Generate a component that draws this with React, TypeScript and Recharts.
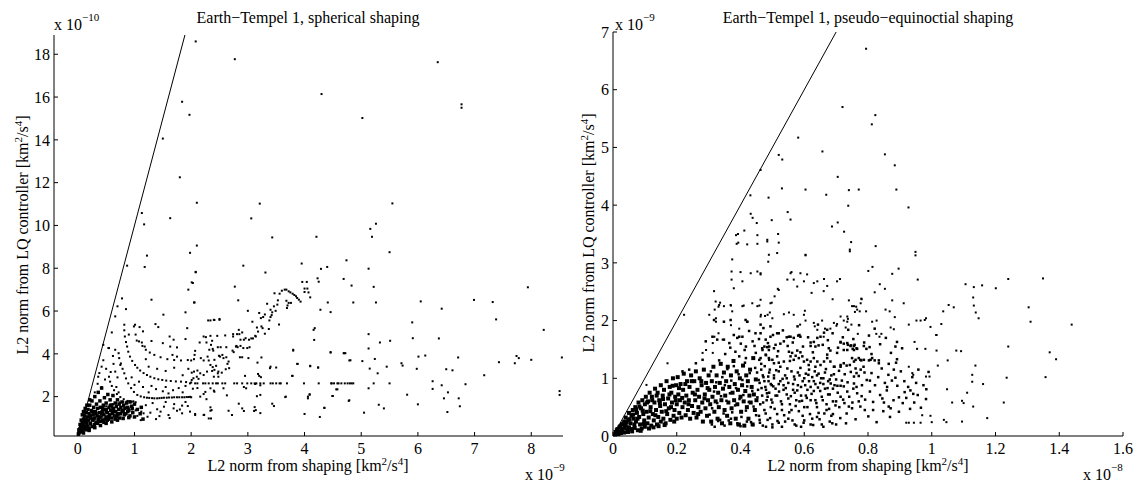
import React from "react";
import { ScatterChart, Scatter, XAxis, YAxis } from "recharts";

type Pt = [number, number];

// axis ticks (x in 1e-9 / y in 1e-10 on the left, x in 1e-8 / y in 1e-9 on the right)
const sphericalXTicks = [0, 1, 2, 3, 4, 5, 6, 7, 8];
const sphericalYTicks = [2, 4, 6, 8, 10, 12, 14, 16, 18];
const equinoctialXTicks = [0, 0.2, 0.4, 0.6, 0.8, 1, 1.2, 1.4, 1.6];
const equinoctialYTicks = [0, 1, 2, 3, 4, 5, 6, 7];

// y = x reference lines
const sphericalUnity: Pt[] = [[0.016, 0.16], [1.89, 18.9]];
const equinoctialUnity: Pt[] = [[0, 0], [0.7, 7]];

// spherical shaping: dense wedge near the origin
const sphericalCore: Pt[] = [
  [0.01,0.25],[0.02,0.3],[0.02,0.45],[0.03,0.4],[0.04,0.5],[0.04,0.7],[0.05,0.35],[0.05,0.6],[0.06,0.45],[0.06,0.9],
  [0.07,0.7],[0.08,0.55],[0.08,0.85],[0.08,1.15],[0.09,0.4],[0.1,0.65],[0.1,0.95],[0.1,1.3],[0.11,0.5],[0.12,0.8],
  [0.12,1.1],[0.13,0.6],[0.13,1.45],[0.14,0.95],[0.15,0.45],[0.15,1.25],[0.16,0.75],[0.16,1.6],[0.17,1.05],[0.18,0.6],
  [0.18,1.4],[0.19,0.9],[0.2,1.2],[0.2,0.5],[0.21,1.6],[0.21,1.85],[0.22,0.75],[0.23,1.0],[0.24,1.35],[0.25,0.6],
  [0.25,1.8],[0.26,0.9],[0.27,1.15],[0.28,1.5],[0.29,0.7],[0.3,1.0],[0.3,2.0],[0.31,1.3],[0.32,0.8],[0.33,1.65],
  [0.34,1.1],[0.35,0.75],[0.35,1.45],[0.36,2.2],[0.37,0.95],[0.38,1.25],[0.39,1.8],[0.4,0.85],[0.4,1.5],[0.41,1.05],
  [0.42,2.4],[0.43,1.3],[0.44,0.9],[0.45,1.6],[0.46,1.15],[0.47,1.95],[0.48,0.95],[0.49,1.4],[0.5,1.7],[0.5,1.05],
  [0.52,1.25],[0.53,2.1],[0.54,0.95],[0.55,1.5],[0.56,1.15],[0.57,1.85],[0.58,1.35],[0.6,1.0],[0.6,1.6],[0.61,1.2],
  [0.62,2.05],[0.63,1.45],[0.65,1.1],[0.66,1.7],[0.67,1.3],[0.68,1.55],[0.7,1.15],[0.7,1.85],[0.72,1.4],[0.73,1.65],
  [0.75,1.2],[0.76,1.5],[0.78,1.75],[0.8,1.3],[0.81,1.6],[0.83,1.45],[0.85,1.2],[0.86,1.7],[0.88,1.5],[0.9,1.35],
  [0.92,1.75],[0.95,1.55],[0.97,1.25],[1.0,1.65],[1.0,1.05],[1.05,1.4],[1.1,1.2],[1.12,1.5],[1.15,0.95],
  [0.1,0.3],[0.2,0.42],[0.3,0.55],[0.4,0.65],[0.5,0.75],[0.6,0.82],[0.7,0.9],[0.8,0.98],[0.9,1.02],
  [0.15,0.9],[0.22,1.1],[0.26,1.3],[0.32,1.2],[0.36,0.9],[0.42,1.2],[0.44,1.45],[0.5,1.3],[0.55,1.05],[0.58,1.6],
  [0.64,1.3],[0.66,0.95],[0.72,1.2],[0.74,1.0],[0.78,1.35],[0.82,1.15],[0.88,1.3],[0.92,1.1],[0.96,1.45],[0.28,0.95],
  [0.38,1.05],[0.46,0.8],[0.52,0.9],[0.62,1.35],[0.68,1.05],
];

// spherical shaping: the curved families of solutions
const sphericalArcs: Pt[] = [
  [0.82,5.36],[0.82,5.1],[0.83,4.81],[0.85,4.55],[0.87,4.34],[0.89,4.1],[0.92,3.87],[0.96,3.67],[1.01,3.48],[1.05,3.35],
  [1.1,3.22],[1.16,3.1],[1.22,3.01],[1.28,2.93],[1.35,2.86],[1.42,2.81],[1.49,2.78],[1.56,2.75],[1.64,2.73],[1.73,2.71],
  [1.82,2.7],[1.91,2.68],[2.0,2.66],
  [0.99,5.28],[1.02,4.9],[1.08,4.58],[1.14,4.37],[1.2,4.19],[1.27,4.06],[1.35,3.95],[1.46,3.84],[1.58,3.75],[1.7,3.71],
  [1.82,3.69],[1.94,3.71],[2.05,3.75],[2.17,3.8],[2.29,3.87],
  [0.72,4.03],[0.73,3.8],[0.76,3.55],[0.79,3.3],[0.82,3.09],[0.85,2.85],[0.89,2.62],[0.94,2.4],[0.99,2.22],[1.05,2.08],
  [1.11,2.01],[1.17,1.97],[1.26,1.94],[1.35,1.92],[1.44,1.93],[1.52,1.95],[1.61,1.96],[1.7,1.97],[1.79,1.97],[1.88,1.97],
  [1.95,1.98],[2.0,1.97],[1.22,1.95],[1.31,1.93],[1.4,1.92],[1.48,1.94],[1.57,1.95],[1.66,1.96],[1.75,1.97],[1.84,1.97],
  [1.92,1.98],[1.98,1.99],
  [0.55,2.93],[0.57,2.7],[0.6,2.5],[0.64,2.3],[0.69,2.12],[0.75,1.98],[0.81,1.88],[0.88,1.8],[0.95,1.76],[1.02,1.74],
  [0.5,1.55],[0.56,1.6],[0.62,1.65],[0.68,1.7],[0.74,1.73],[0.8,1.76],[0.86,1.77],[0.92,1.78],[0.98,1.78],
  [0.45,1.35],[0.52,1.42],[0.6,1.48],[0.68,1.5],[0.76,1.5],[0.84,1.48],[0.9,1.45],[0.96,1.4],[1.02,1.36],
];

// spherical shaping: rising band between 2 and 4
const sphericalBand: Pt[] = [
  [1.98,8.72],[2.08,7.81],[2.03,7.31],[2.92,8.12],[3.31,7.8],[2.05,6.4],[2.77,7.14],[2.83,6.5],[3.65,7.0],[3.68,7.0],
  [3.72,6.92],[3.75,6.87],[3.6,6.95],[3.56,6.81],[3.79,6.81],[3.82,6.75],[3.85,6.69],[3.87,6.61],[3.9,6.53],[3.93,6.44],
  [4.0,7.05],[4.05,7.05],[4.0,6.89],[4.07,6.87],[4.1,6.64],[3.47,6.83],[3.68,6.48],[3.72,6.38],[3.7,6.26],[3.76,6.38],
  [3.69,6.14],[3.53,6.5],[3.52,6.3],[3.34,6.34],[3.46,6.22],[3.4,6.06],[3.49,6.01],[3.43,5.94],[3.42,5.81],[3.4,5.72],
  [3.38,5.56],[3.2,5.91],[3.3,5.84],[3.27,5.72],[3.23,5.67],[3.0,6.01],[3.08,5.5],[3.24,5.28],[3.26,5.2],[3.16,5.23],
  [3.18,5.04],[3.14,4.81],[3.06,4.72],[3.02,4.66],[2.96,4.73],[2.93,4.66],[2.87,4.66],[3.3,4.94],[3.37,5.16],[3.55,5.37],
  [2.84,5.12],[2.9,5.0],[2.85,4.92],[2.81,4.92],[2.74,4.92],[2.74,4.81],[2.99,4.27],[3.03,4.31],[3.09,4.72],[3.13,4.84],
  [2.34,5.56],[2.41,5.58],[2.5,5.63],[2.22,4.81],[2.26,4.78],[2.34,4.84],[2.46,4.84],[2.6,4.86],[2.15,4.53],[2.37,4.61],
  [2.35,4.42],[2.47,4.31],[2.52,4.31],[2.62,4.31],[2.38,4.23],[2.39,4.15],[2.73,4.15],[2.75,4.08],[2.79,4.34],[2.8,4.37],
  [2.82,4.31],[2.87,4.37],[2.92,4.27],[2.07,4.14],[2.06,3.95],[2.0,3.69],[2.22,3.69],[2.31,3.69],[2.41,3.72],[2.49,3.91],
  [2.51,3.87],[2.55,3.95],[2.57,3.8],[2.62,3.84],[2.66,3.64],[2.86,3.84],[2.9,3.84],[3.01,3.8],[3.24,3.83],[3.17,3.59],
  [2.34,3.48],[2.38,3.38],[2.44,3.44],[2.41,3.25],[2.37,3.2],[2.48,3.17],[2.54,3.12],[2.61,3.28],[2.67,3.33],[2.64,3.53],
  [3.39,3.33],[3.4,3.4],[3.5,3.36],[2.16,3.09],[2.22,3.01],[2.28,3.17],[2.11,3.22],[2.05,3.17],[2.01,3.12],[2.1,2.93],
  [2.04,2.86],[2.01,2.78],[2.13,2.83],[2.4,2.93],[2.47,3.09],[2.48,2.93],[2.95,2.97],[3.18,3.06],[3.23,2.91],[3.2,2.97],
  [3.78,2.97],[3.88,3.53],[3.8,4.15],[4.1,3.42],[4.24,3.36],[4.46,4.06],[4.72,4.03],
  [1.98,2.62],[2.07,2.62],[2.11,2.62],[2.21,2.62],[2.25,2.62],[2.31,2.62],[2.38,2.62],[2.44,2.62],[2.47,2.62],[2.55,2.62],
  [2.6,2.62],[2.76,2.62],[2.81,2.62],[2.9,2.62],[2.99,2.62],[3.06,2.62],[3.12,2.62],[3.15,2.62],[3.22,2.62],[3.28,2.62],
  [3.4,2.62],[3.44,2.62],[3.5,2.62],[3.56,2.62],[4.48,2.62],[4.52,2.62],[4.6,2.62],
  [2.03,2.37],[2.11,2.4],[2.34,2.39],[2.4,2.28],[2.57,2.39],[2.93,2.45],[2.97,2.39],[3.13,2.59],[3.22,2.53],[2.16,2.0],
  [2.22,2.12],[2.25,2.22],[2.41,2.23],[2.27,1.88],[2.63,2.06],[3.16,2.02],[3.22,2.08],[3.67,2.0],[4.06,2.0],[4.09,2.11],
  [3.43,1.67],[3.46,1.56],[2.84,1.67],[2.9,1.45],[2.93,1.33],[3.12,1.51],[3.14,1.37],[3.11,1.33],[3.22,1.23],[2.66,1.34],
  [2.72,1.14],[2.34,1.5],[2.36,1.37],[2.23,1.15],[2.31,0.98],[2.07,1.19],[4.35,1.48],[4.78,1.8],[4.5,2.03],[4.58,2.34],
  [4.69,4.03],[4.79,3.69],
];

// spherical shaping: isolated points
const sphericalScatter: Pt[] = [
  [2.08,18.6],[2.77,17.77],[1.84,15.78],[1.97,15.17],[1.5,14.06],[1.8,12.25],[2.1,11.06],[3.21,11.02],[1.13,10.58],[1.17,10.05],
  [1.63,10.34],[3.06,10.33],[3.43,9.44],[2.1,9.06],[6.35,17.63],[4.3,16.14],[6.77,15.66],[6.77,15.5],[5.02,15.02],[5.55,11.03],
  [5.26,10.08],[5.16,9.84],[5.19,9.47],[4.21,9.47],[5.5,8.75],[3.95,8.22],[4.74,8.37],[5.13,7.98],[4.4,8.06],[4.29,7.97],
  [4.69,7.5],[4.23,7.53],[4.25,7.37],[3.96,7.36],[4.04,7.36],[4.83,7.19],[5.22,7.13],[7.94,7.11],[6.05,6.45],[6.99,6.52],
  [7.32,6.42],[4.41,6.4],[4.86,6.4],[5.26,6.4],[4.28,6.06],[4.46,5.95],[6.42,6.11],[7.38,5.61],[5.9,5.47],[4.16,5.12],
  [4.18,5.2],[8.22,5.12],[5.13,4.92],[4.17,4.65],[5.91,4.73],[6.37,4.72],[5.33,4.53],[5.51,4.61],[3.8,4.19],[4.46,4.08],
  [4.7,4.03],[5.13,4.25],[6.01,3.87],[6.13,3.92],[6.71,3.83],[8.54,3.83],[7.74,3.9],[7.78,3.8],[7.43,3.61],[7.71,3.56],
  [8.0,3.72],[3.87,3.53],[4.81,3.7],[5.02,3.66],[5.24,3.76],[4.1,3.44],[4.24,3.36],[5.71,3.56],[5.73,3.45],[5.45,3.4],
  [5.15,3.31],[6.5,3.28],[6.61,3.23],[5.98,3.3],[5.29,3.09],[3.79,2.97],[7.17,3.0],
  [3.58,2.62],[3.69,2.62],[3.99,2.62],[4.25,2.62],[4.47,2.62],[4.58,2.62],[4.65,2.62],[4.71,2.62],[4.76,2.62],[4.8,2.62],
  [4.83,2.62],[4.86,2.62],[5.22,2.62],[5.5,2.62],
  [6.26,2.72],[6.42,2.53],[6.84,2.58],[5.13,2.39],[6.26,2.36],[4.56,2.34],[6.53,2.2],[6.46,1.92],[6.72,1.92],[6.74,1.55],
  [5.81,2.09],[4.09,2.09],[4.06,1.92],[4.49,2.03],[3.66,1.98],[4.79,1.83],[8.5,2.26],[8.5,2.08],[5.31,1.62],[5.4,1.45],
  [6.0,1.64],[4.35,1.47],[6.52,1.28],[4.0,1.19],[5.05,1.25],[4.27,1.05],
  [1.22,8.59],[0.87,8.12],[1.18,8.06],[0.78,6.59],[0.7,6.22],[0.85,6.09],[1.3,6.53],[0.66,5.75],[0.55,4.27],[0.45,4.42],
  [0.54,4.27],[0.66,4.19],[0.36,2.93],[0.42,3.4],[0.63,3.53],[0.75,3.48],[0.66,3.17],[1.01,5.36],[1.09,5.25],[1.15,5.05],
  [1.04,4.62],[1.13,4.53],[1.18,4.34],[1.37,5.39],[1.42,5.25],[1.51,5.83],[1.62,4.81],[1.69,4.66],[1.63,4.34],[1.67,3.95],
  [1.75,3.87],[1.9,4.69],[1.93,5.2],[1.9,5.94],[1.95,7.0],[2.01,7.34],[2.06,6.4],[2.08,7.83],[2.3,5.56],[2.4,5.59],
  [2.5,5.59],[2.27,4.53],[2.32,4.19],[1.16,1.22],[1.11,0.9],[1.23,1.06],[1.4,1.41],[1.44,1.09],[1.52,1.53],[1.6,1.14],
  [1.69,1.45],[1.75,1.34],[1.84,1.58],[1.84,1.22],[1.94,1.56],[2.07,1.14],[2.22,1.14],[2.34,1.34],[2.35,0.98],
  [0.3,2.2],[0.35,2.6],[0.42,2.45],[0.48,2.8],[0.38,3.1],[0.5,3.3],[0.58,3.15],[0.45,3.7],[0.62,3.9],[0.7,2.9],
  [0.68,2.45],[0.72,2.2],[0.95,2.9],[1.0,2.55],[1.08,2.7],[1.15,2.45],[1.25,2.2],[1.3,2.5],[1.38,2.35],[1.5,2.25],
  [1.55,2.45],[1.6,2.15],[1.68,2.3],[1.78,2.4],[1.85,2.2],[1.9,2.5],[1.25,3.4],[1.4,3.3],[1.55,3.2],[1.7,3.35],
  [1.85,3.0],[1.95,3.3],[1.2,3.75],[0.9,4.9],[0.6,5.0],[1.3,4.6],[1.5,4.5],[1.75,4.3],
  [1.05,1.1],[1.12,1.3],[1.2,1.6],[1.28,1.25],[1.32,1.7],[1.38,0.95],[1.46,1.3],[1.55,1.75],[1.62,1.0],[1.7,1.65],
  [1.8,1.4],[1.9,1.75],[1.98,1.3],
];

// pseudo-equinoctial shaping: dense cloud near the origin
const equinoctialCore: Pt[] = [
  [0.005,0.02],[0.01,0.05],[0.012,0.1],[0.015,0.03],[0.02,0.08],[0.02,0.15],[0.025,0.05],[0.028,0.2],[0.03,0.12],[0.035,0.25],
  [0.035,0.06],[0.04,0.18],[0.04,0.32],[0.045,0.1],[0.048,0.28],[0.05,0.4],[0.05,0.15],[0.055,0.22],[0.058,0.35],[0.06,0.08],
  [0.062,0.45],[0.065,0.3],[0.068,0.14],[0.07,0.5],[0.072,0.25],[0.075,0.4],[0.078,0.1],[0.08,0.58],[0.082,0.33],[0.085,0.2],
  [0.088,0.48],[0.09,0.13],[0.092,0.62],[0.095,0.38],[0.098,0.27],[0.1,0.55],[0.1,0.16],[0.103,0.68],[0.105,0.42],[0.108,0.22],
  [0.11,0.6],[0.112,0.32],[0.115,0.75],[0.118,0.5],[0.12,0.18],[0.122,0.68],[0.125,0.38],[0.128,0.27],[0.13,0.58],[0.132,0.82],
  [0.135,0.45],[0.138,0.2],[0.14,0.75],[0.142,0.33],[0.145,0.62],[0.148,0.52],[0.15,0.88],[0.15,0.25],[0.153,0.42],[0.156,0.7],
  [0.158,0.3],[0.16,0.8],[0.163,0.55],[0.165,0.22],[0.168,0.95],[0.17,0.38],[0.173,0.65],[0.175,0.48],[0.178,0.85],[0.18,0.28],
  [0.183,0.75],[0.185,0.58],[0.188,1.0],[0.19,0.35],[0.193,0.45],[0.195,0.68],[0.198,0.88],[0.2,0.3],[0.2,0.55],[0.203,1.02],
  [0.205,0.72],[0.208,0.4],[0.21,0.62],[0.212,0.9],[0.215,0.32],[0.218,0.5],[0.22,0.8],[0.222,1.08],[0.225,0.58],[0.228,0.36],
  [0.23,0.7],[0.232,0.95],[0.235,0.45],[0.238,0.62],[0.24,0.85],[0.242,0.3],[0.245,1.05],[0.248,0.52],[0.25,0.75],[0.253,0.4],
  [0.255,0.95],[0.258,0.62],[0.26,1.12],[0.262,0.32],[0.265,0.8],[0.268,0.5],[0.27,0.68],[0.272,1.0],[0.275,0.42],[0.278,0.88],
  [0.28,0.58],[0.282,0.25],[0.285,1.15],[0.288,0.72],[0.29,0.48],[0.292,0.92],[0.295,0.35],[0.298,0.62],[0.3,1.05],[0.302,0.8],
  [0.305,0.55],[0.308,0.25],[0.31,0.95],[0.312,0.68],[0.315,1.2],[0.318,0.42],[0.32,0.85],[0.322,0.6],[0.325,1.05],[0.328,0.3],
  [0.33,0.75],[0.332,0.5],[0.335,0.92],[0.338,1.25],[0.34,0.62],[0.342,0.22],[0.345,0.82],[0.348,1.1],[0.35,0.45],[0.352,0.7],
  [0.355,0.95],[0.358,0.35],[0.36,1.2],[0.362,0.58],[0.365,0.85],[0.368,0.22],[0.37,1.05],[0.372,0.48],[0.375,0.75],[0.378,1.3],
  [0.38,0.62],[0.382,0.9],[0.385,0.3],[0.388,1.12],[0.39,0.55],[0.392,0.8],[0.395,0.2],[0.398,1.0],[0.4,0.68],[0.402,0.42],
  [0.405,0.88],[0.408,1.22],[0.41,0.6],[0.412,0.18],[0.415,0.78],[0.418,1.05],[0.42,0.5],[0.423,0.95],[0.425,0.3],[0.428,0.7],
  [0.43,1.15],[0.432,0.58],[0.435,0.85],[0.438,0.2],[0.44,1.35],[0.442,0.72],[0.445,0.45],[0.448,0.98],[0.45,0.62],
  [0.008,0.07],[0.014,0.12],[0.018,0.04],[0.023,0.17],[0.027,0.09],[0.032,0.21],[0.037,0.14],[0.043,0.24],[0.047,0.07],[0.052,0.29],
  [0.057,0.12],[0.063,0.37],[0.067,0.2],[0.073,0.46],[0.077,0.3],[0.083,0.51],[0.087,0.09],[0.093,0.44],[0.097,0.21],[0.107,0.58],
  [0.113,0.13],[0.117,0.43],[0.123,0.62],[0.127,0.15],[0.133,0.36],[0.137,0.7],[0.143,0.17],[0.147,0.57],[0.157,0.64],[0.162,0.19],
  [0.167,0.43],[0.177,0.72],[0.182,0.5],[0.187,0.87],[0.192,0.25],[0.197,0.62],[0.207,0.83],[0.217,0.66],[0.227,0.9],[0.237,0.55],
  [0.247,0.95],[0.257,0.72],[0.267,0.38],[0.277,0.95],[0.287,0.65],[0.297,0.83],
];

// pseudo-equinoctial shaping: the looser part of the cloud
const equinoctialCloud: Pt[] = [
  [0.452,1.1],[0.455,0.8],[0.458,0.35],[0.46,0.92],[0.462,0.55],[0.465,1.25],[0.468,0.7],[0.47,0.18],[0.472,1.02],[0.475,0.45],
  [0.478,0.85],[0.48,1.4],[0.482,0.62],[0.485,0.28],[0.488,0.95],[0.49,0.75],[0.492,1.15],[0.495,0.5],[0.498,0.88],[0.5,0.2],
  [0.505,1.05],[0.51,0.7],[0.515,0.38],[0.52,0.9],[0.525,1.2],[0.53,0.55],[0.535,0.8],[0.54,0.25],[0.545,1.0],[0.55,0.65],
  [0.555,1.3],[0.56,0.45],[0.565,0.9],[0.57,0.75],[0.575,0.18],[0.58,1.1],[0.585,0.6],[0.59,0.85],[0.595,0.35],[0.6,1.0],
  [0.605,0.7],[0.61,0.5],[0.615,1.15],[0.62,0.85],[0.625,0.3],[0.63,0.95],[0.635,0.62],[0.64,1.05],[0.645,0.4],[0.65,0.78],
  [0.655,0.2],[0.66,0.9],[0.665,1.1],[0.67,0.55],[0.675,0.72],[0.68,0.98],[0.685,0.35],[0.69,0.82],[0.695,1.2],[0.7,0.6],
  [0.465,1.15],[0.47,1.05],[0.475,0.95],[0.48,0.8],[0.485,0.68],[0.49,1.1],[0.495,0.9],[0.5,0.58],[0.505,1.0],[0.51,0.82],
  [0.515,0.7],[0.52,1.12],[0.525,0.95],[0.53,0.45],[0.535,0.88],[0.54,1.05],[0.545,0.72],[0.55,0.92],[0.555,0.55],[0.56,1.12],
  [0.565,0.8],[0.57,0.98],[0.575,0.62],[0.58,0.88],[0.585,1.05],[0.59,0.7],[0.595,0.95],[0.6,0.5],[0.605,1.08],[0.61,0.8],
  [0.615,0.95],[0.62,0.62],[0.625,1.02],[0.63,0.78],[0.635,0.9],[0.64,0.5],[0.645,1.08],[0.65,0.92],[0.655,0.68],[0.66,1.0],
  [0.665,0.82],[0.67,0.45],[0.675,0.95],[0.68,0.72],[0.685,1.05],[0.69,0.6],[0.695,0.88],[0.7,0.98],[0.705,0.75],[0.71,0.5],
  [0.31,0.2],[0.33,0.26],[0.35,0.18],[0.37,0.3],[0.39,0.22],[0.4,0.17],[0.42,0.25],[0.44,0.19],[0.46,0.28],[0.48,0.16],
  [0.5,0.15],[0.52,0.23],[0.53,0.16],[0.55,0.3],[0.57,0.2],[0.59,0.16],[0.6,0.27],[0.62,0.2],[0.64,0.33],[0.66,0.16],
  [0.68,0.25],[0.69,0.38],[0.7,0.2],
  [0.218,1.12],[0.239,1.15],[0.26,1.26],[0.281,1.32],[0.365,1.61],[0.396,1.72],[0.417,1.55],[0.438,1.64],[0.469,1.49],[0.49,1.55],
  [0.448,1.44],[0.417,1.35],[0.396,1.38],[0.459,1.32],[0.49,1.32],[0.291,1.64],[0.312,1.72],[0.327,1.67],[0.348,1.67],[0.379,1.75],
  [0.39,1.7],[0.406,1.72],[0.447,1.78],[0.463,1.78],[0.479,1.67],[0.317,2.01],[0.348,1.98],[0.369,2.01],[0.416,2.01],[0.421,1.98],
  [0.463,1.93],[0.494,1.9],[0.515,1.78],[0.494,1.72],[0.52,1.78],[0.552,1.72],[0.567,1.7],[0.581,1.74],[0.585,1.75],[0.588,1.72],
  [0.62,1.62],[0.63,1.63],[0.641,1.7],[0.651,1.72],[0.662,1.79],[0.672,1.84],[0.714,1.62],[0.724,1.6],[0.737,1.58],[0.747,1.57],
  [0.758,1.58],[0.752,1.51],[0.766,1.51],[0.468,1.52],[0.475,1.55],[0.484,1.54],[0.489,1.49],[0.505,1.52],[0.51,1.58],[0.525,1.6],
  [0.536,1.64],[0.545,1.71],[0.557,1.72],[0.62,1.56],[0.635,1.55],[0.645,1.57],[0.677,1.52],[0.682,1.48],[0.703,1.44],[0.672,1.41],
  [0.552,1.46],[0.562,1.44],[0.573,1.39],[0.578,1.48],[0.588,1.45],[0.557,1.38],[0.567,1.32],[0.583,1.35],[0.594,1.38],[0.463,1.35],
  [0.479,1.41],[0.489,1.35],[0.5,1.32],[0.515,1.38],[0.505,1.26],[0.52,1.27],[0.536,1.29],[0.599,1.29],[0.609,1.32],[0.62,1.29],
  [0.63,1.35],[0.641,1.29],[0.614,1.23],[0.635,1.2],[0.651,1.23],[0.662,1.29],[0.672,1.35],[0.682,1.29],[0.693,1.2],[0.714,1.23],
  [0.724,1.26],[0.756,1.29],[0.776,1.32],[0.808,1.32],[0.834,1.26],
  [0.714,1.63],[0.735,1.61],[0.745,1.56],[0.756,1.56],[0.724,1.49],[0.735,1.49],[0.756,1.49],[0.764,1.52],[0.787,1.56],[0.795,1.51],
  [0.805,1.54],[0.811,1.42],[0.75,1.35],[0.761,1.32],[0.771,1.35],[0.779,1.31],[0.787,1.32],[0.803,1.31],[0.813,1.35],[0.821,1.31],
  [0.834,1.31],[0.865,1.25],[0.881,1.15],[0.888,1.27],[0.891,1.33],[0.886,1.55],[0.714,1.2],[0.733,1.22],[0.743,1.23],[0.761,1.17],
  [0.777,1.15],[0.789,1.1],[0.764,1.09],[0.756,1.03],[0.714,0.87],[0.724,0.86],[0.735,0.77],[0.754,0.82],[0.764,0.85],[0.78,0.69],
  [0.806,0.96],[0.86,0.85],[0.845,0.65],[0.85,0.58],[0.865,0.51],[0.871,0.48],[0.897,0.67],[0.915,0.76],[0.933,0.79],[0.942,0.73],
  [0.956,0.71],[0.983,0.81],[0.714,0.68],[0.726,0.57],[0.74,0.51],[0.75,0.48],[0.771,0.6],[0.79,0.45],[0.816,0.45],[0.733,0.39],
];

// pseudo-equinoctial shaping: middle of the cloud, 0.3 to 1.0
const equinoctialMid: Pt[] = [
  [0.303,0.37],[0.307,1.12],[0.311,0.48],[0.317,0.77],[0.319,0.16],[0.324,0.93],[0.327,0.57],[0.333,1.31],[0.336,0.28],[0.339,0.69],
  [0.343,1.02],[0.347,0.39],[0.351,0.88],[0.356,0.61],[0.359,1.16],[0.363,0.27],[0.367,0.74],[0.371,0.96],[0.374,0.41],[0.379,1.21],
  [0.383,0.53],[0.386,0.83],[0.391,0.19],[0.394,1.07],[0.397,0.64],[0.403,0.33],[0.406,0.97],[0.409,0.71],[0.414,1.27],[0.417,0.44],
  [0.421,0.86],[0.426,0.59],[0.429,1.09],[0.433,0.24],[0.437,0.78],[0.441,0.51],[0.446,1.18],[0.449,0.36],
  [0.453,0.67],[0.457,0.97],[0.461,0.23],[0.466,0.83],[0.471,0.58],[0.476,1.21],[0.479,0.39],[0.483,0.74],[0.487,1.03],[0.493,0.31],
  [0.497,0.63],[0.503,0.86],[0.507,0.47],[0.512,1.14],[0.516,0.26],[0.521,0.77],[0.527,0.6],[0.532,0.99],[0.537,0.36],[0.542,0.83],
  [0.547,1.17],[0.553,0.41],[0.558,0.69],[0.563,0.27],[0.568,1.03],[0.573,0.52],[0.578,0.79],[0.583,0.43],[0.588,1.18],[0.593,0.61],
  [0.598,0.23],[0.603,0.88],[0.608,0.66],[0.613,1.06],[0.618,0.38],[0.623,0.73],[0.628,0.19],[0.633,1.12],[0.638,0.57],[0.643,0.84],
  [0.648,0.29],[0.653,1.0],[0.658,0.62],[0.663,0.39],[0.668,1.16],[0.673,0.83],[0.678,0.47],[0.683,0.91],[0.688,0.22],[0.693,1.07],
  [0.698,0.53],[0.704,0.87],[0.709,1.13],[0.713,0.31],[0.718,0.96],[0.722,0.63],[0.727,1.07],[0.731,0.22],[0.736,0.93],[0.741,0.68],
  [0.746,1.11],[0.751,0.58],[0.756,0.91],[0.761,0.29],[0.766,0.74],[0.771,1.04],[0.776,0.51],[0.781,0.88],[0.786,1.2],[0.791,0.63],
  [0.796,0.97],[0.801,0.34],[0.806,0.77],[0.811,1.09],[0.816,0.59],[0.822,0.88],[0.827,0.24],[0.832,1.02],[0.838,0.71],[0.843,1.17],
  [0.848,0.43],[0.853,0.92],[0.859,0.79],[0.864,1.06],[0.869,0.33],[0.875,0.96],[0.88,0.62],[0.886,1.01],[0.892,0.87],[0.897,0.42],
  [0.903,1.12],[0.909,0.57],[0.914,0.95],[0.92,0.66],[0.926,0.85],[0.932,0.47],[0.939,1.02],[0.945,0.58],[0.951,0.92],[0.958,1.15],
  [0.966,0.49],[0.974,0.88],[0.982,0.64],[0.99,1.11],
  [0.352,1.42],[0.368,1.53],[0.384,1.46],[0.401,1.6],[0.413,1.49],[0.427,1.82],[0.444,1.56],[0.458,1.68],[0.472,1.87],[0.486,1.61],
  [0.502,1.75],[0.518,1.47],[0.533,1.83],[0.548,1.56],[0.564,1.62],[0.579,1.9],[0.596,1.55],[0.612,1.71],[0.627,1.45],[0.643,1.93],
  [0.658,1.58],[0.674,1.66],[0.689,1.78],[0.706,1.53],[0.721,1.71],[0.738,1.84],[0.754,1.68],[0.772,1.92],[0.788,1.62],[0.803,1.74],
  [0.821,1.86],[0.838,1.59],[0.856,1.7],[0.872,1.44],[0.891,1.63],[0.907,1.52],
];

// pseudo-equinoctial shaping: isolated points
const equinoctialScatter: Pt[] = [
  [0.72,5.7],[0.581,5.17],[0.657,4.93],[0.52,4.87],[0.531,4.79],[0.463,4.61],[0.705,4.49],[0.53,4.29],[0.604,4.27],[0.431,4.17],
  [0.488,4.13],[0.669,4.18],[0.74,4.26],[0.771,4.27],[0.738,3.99],[0.432,3.85],[0.438,3.78],[0.451,3.69],[0.498,3.74],[0.548,3.88],
  [0.557,3.75],[0.412,3.56],[0.687,3.63],[0.705,3.7],[0.725,3.54],[0.386,3.48],[0.392,3.5],[0.453,3.48],[0.484,3.4],[0.518,3.5],
  [0.747,3.36],[0.794,6.71],[0.823,5.56],[0.812,5.4],[0.853,4.88],[0.884,4.69],[0.889,4.27],[0.927,3.96],[0.824,3.29],[0.743,3.23],
  [0.949,3.19],[0.949,3.13],[0.801,2.86],[0.814,2.93],[0.876,2.81],[0.896,2.9],[0.956,2.71],[0.837,2.63],[0.853,2.55],[0.821,2.49],
  [1.106,2.63],[1.132,2.58],[1.158,2.61],[1.201,2.56],[1.24,2.72],[1.349,2.73],[0.74,2.35],[0.78,2.37],[0.777,2.3],[0.763,2.24],
  [0.794,2.16],[0.774,2.16],[0.759,2.15],[0.876,2.35],[0.912,2.3],[1.053,2.27],[1.069,2.23],[1.036,2.16],[1.03,1.94],[1.014,1.75],
  [1.13,2.4],[1.132,2.26],[1.138,2.14],[1.147,2.04],[1.304,2.23],[1.31,1.98],[1.439,1.93],[0.855,2.19],[0.868,2.16],[0.884,2.06],
  [0.813,1.98],[0.827,2.0],[0.748,1.93],[0.735,1.98],[0.928,1.93],[0.952,2.0],[0.965,2.0],[0.978,2.01],[0.982,2.04],[0.871,1.88],
  [0.881,1.85],[0.768,1.77],[0.826,1.77],[0.836,1.72],[0.842,1.77],[0.996,1.89],[1.015,1.75],[0.946,1.63],[0.954,1.51],[0.98,1.51],
  [1.015,1.48],[1.077,1.48],[1.092,1.47],[1.24,1.55],[1.37,1.45],[1.39,1.33],[1.357,1.02],[1.235,1.01],[0.928,1.2],[0.939,1.09],
  [0.942,1.06],[0.982,1.03],[0.993,1.03],[1.019,1.22],[1.05,1.31],[1.137,1.22],[1.127,1.06],[1.127,0.94],[1.161,0.9],[1.048,0.81],
  [1.064,0.58],[1.095,0.61],[1.1,0.57],[1.111,0.75],[1.13,0.51],[1.226,0.58],[1.174,0.31],[0.92,0.23],[0.928,0.23],[0.944,0.23],
  [0.965,0.23],[0.97,0.36],[0.996,0.35],[1.0,0.24],[1.038,0.28],[1.046,0.24],[1.095,0.25],
  [0.388,3.33],[0.393,3.35],[0.421,3.32],[0.453,3.33],[0.484,3.37],[0.52,3.35],[0.374,3.06],[0.4,2.84],[0.372,2.85],[0.372,2.71],
  [0.379,2.56],[0.406,2.68],[0.432,2.82],[0.453,2.85],[0.463,2.8],[0.489,3.14],[0.515,3.17],[0.557,2.82],[0.588,2.82],[0.604,3.14],
  [0.317,2.51],[0.322,2.33],[0.333,2.27],[0.319,2.19],[0.348,2.25],[0.369,2.27],[0.374,2.16],[0.406,2.25],[0.437,2.3],[0.453,2.25],
  [0.463,2.36],[0.494,2.3],[0.52,2.53],[0.547,2.71],[0.567,2.71],[0.578,2.59],[0.609,2.8],[0.641,2.68],[0.661,2.51],[0.703,2.68],
  [0.743,3.2],[0.756,2.25],[0.223,2.1],[0.105,0.885],[0.604,3.13],[0.487,3.02],[0.463,2.82],[0.56,2.84],[0.599,2.68],[0.63,2.65],
  [0.662,2.72],[0.672,2.6],[0.712,2.72],[0.517,2.55],[0.507,2.42],[0.498,2.31],[0.623,2.48],[0.689,2.37],[0.779,2.38],[0.463,2.07],
  [0.477,2.08],[0.492,2.14],[0.5,2.04],[0.536,2.11],[0.552,2.14],[0.602,2.17],[0.604,2.0],[0.656,2.0],[0.703,1.94],[0.701,1.91],
  [0.724,2.0],[0.737,2.03],[0.73,1.88],[0.714,2.07],[0.587,1.93],[0.633,1.9],[0.641,1.84],[0.665,1.86],[0.682,1.86],[0.336,2.31],
  [0.331,2.24],[0.37,2.26],[0.41,2.26],[0.459,2.26],[0.464,2.1],[0.485,2.1],[0.302,2.1],[0.323,2.04],[0.323,1.98],[0.37,1.92],
  [0.396,1.86],[0.422,1.98],[0.331,1.78],[0.318,1.72],[0.344,1.67],[0.313,1.61],[0.292,1.49],[0.281,1.44],[0.313,1.44],[0.171,1.26],
  [0.567,2.1],[0.599,2.1],[0.63,1.96],[0.661,1.72],[0.693,1.96],[0.735,2.07],[0.75,2.25],[0.766,2.19],
];

const toXY = (pts: Pt[]) => pts.map(([x, y]) => ({ x, y }));

const FONT = "'Liberation Serif', 'Times New Roman', serif";

const square = (size: number) => (props: any) => (
  <rect x={props.cx - size / 2} y={props.cy - size / 2} width={size} height={size} fill="#000" />
);
const noShape = () => <g />;

interface Layer {
  pts: Pt[];
  size: number;
}

interface PanelProps {
  left: number;
  width: number;
  margin: { top: number; right: number; bottom: number; left: number };
  xDomain: [number, number];
  yDomain: [number, number];
  xTicks: number[];
  yTicks: number[];
  unity: Pt[];
  layers: Layer[];
}

function Panel({ left, width, margin, xDomain, yDomain, xTicks, yTicks, unity, layers }: PanelProps) {
  const tickStyle = { fill: "#000", fontSize: 16, fontFamily: FONT };
  return (
    <div style={{ position: "absolute", left, top: 0 }}>
      <ScatterChart width={width} height={486} margin={margin}>
        <XAxis
          type="number"
          dataKey="x"
          domain={xDomain}
          ticks={xTicks}
          interval={0}
          allowDataOverflow
          height={30}
          tickSize={-4}
          tickMargin={11}
          tick={tickStyle}
          axisLine={{ stroke: "#000" }}
          tickLine={{ stroke: "#000" }}
        />
        <YAxis
          type="number"
          dataKey="y"
          domain={yDomain}
          ticks={yTicks}
          interval={0}
          allowDataOverflow
          width={40}
          tickSize={-4}
          tickMargin={8}
          tick={tickStyle}
          axisLine={{ stroke: "#000" }}
          tickLine={{ stroke: "#000" }}
        />
        {layers.map((layer, i) => (
          <Scatter key={i} data={toXY(layer.pts)} shape={square(layer.size)} isAnimationActive={false} />
        ))}
        <Scatter
          data={toXY(unity)}
          line={{ stroke: "#000", strokeWidth: 1 }}
          shape={noShape}
          isAnimationActive={false}
        />
      </ScatterChart>
    </div>
  );
}

function Units() {
  return (
    <>
      [km<tspan dy={-6} fontSize={11}>2</tspan>
      <tspan dy={6}>/s</tspan>
      <tspan dy={-6} fontSize={11}>4</tspan>
      <tspan dy={6}>]</tspan>
    </>
  );
}

function Exponent({ x, y, exp }: { x: number; y: number; exp: string }) {
  return (
    <text x={x} y={y} fontSize={16}>
      x 10<tspan dy={-9} fontSize={11}>{exp}</tspan>
    </text>
  );
}

export default function App() {
  return (
    <div style={{ position: "absolute", left: 0, top: 0, width: 1136, height: 486, background: "#fff" }}>
      <Panel
        left={0}
        width={570}
        margin={{ top: 35, right: 7, bottom: 20, left: 14 }}
        xDomain={[-0.42, 8.56]}
        yDomain={[0.16, 18.9]}
        xTicks={sphericalXTicks}
        yTicks={sphericalYTicks}
        unity={sphericalUnity}
        layers={[
          { pts: sphericalArcs, size: 2 },
          { pts: sphericalBand, size: 2 },
          { pts: sphericalScatter, size: 2 },
          { pts: sphericalCore, size: 3.5 },
        ]}
      />
      <Panel
        left={570}
        width={566}
        margin={{ top: 32, right: 13, bottom: 20, left: 3 }}
        xDomain={[0, 1.6]}
        yDomain={[0, 7]}
        xTicks={equinoctialXTicks}
        yTicks={equinoctialYTicks}
        unity={equinoctialUnity}
        layers={[
          { pts: equinoctialScatter, size: 2 },
          { pts: equinoctialMid, size: 2.5 },
          { pts: equinoctialCloud, size: 2.5 },
          { pts: equinoctialCore, size: 4 },
        ]}
      />
      <svg
        width={1136}
        height={486}
        style={{ position: "absolute", left: 0, top: 0, pointerEvents: "none" }}
        fontFamily={FONT}
        fill="#000"
      >
        <text x={308} y={23} textAnchor="middle" fontSize={16}>Earth−Tempel 1, spherical shaping</text>
        <text x={868} y={23} textAnchor="middle" fontSize={16}>Earth−Tempel 1, pseudo−equinoctial shaping</text>

        <text x={308} y={471} textAnchor="middle" fontSize={16}>
          L2 norm from shaping <Units />
        </text>
        <text x={868} y={471} textAnchor="middle" fontSize={16}>
          L2 norm from shaping <Units />
        </text>

        <text x={28} y={235} textAnchor="middle" fontSize={16} transform="rotate(-90 28 235)">
          L2 norm from LQ controller <Units />
        </text>
        <text x={594} y={233} textAnchor="middle" fontSize={16} transform="rotate(-90 594 233)">
          L2 norm from LQ controller <Units />
        </text>

        <Exponent x={54} y={30} exp="−10" />
        <Exponent x={525} y={480} exp="−9" />
        <Exponent x={615} y={30} exp="−9" />
        <Exponent x={1083} y={480} exp="−8" />
      </svg>
    </div>
  );
}
